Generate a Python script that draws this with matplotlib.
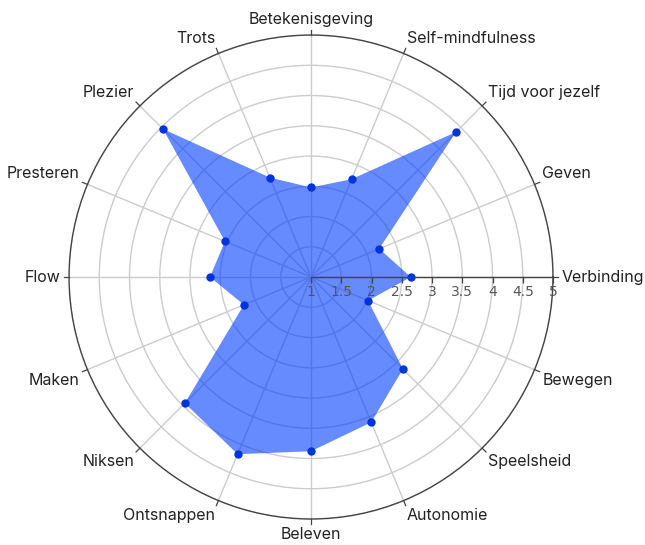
import numpy as np
import matplotlib
matplotlib.use('Agg')
import matplotlib.pyplot as plt
from matplotlib.transforms import ScaledTranslation

categories = ['Verbinding', 'Geven', 'Tijd voor jezelf', 'Self-mindfulness',
              'Betekenisgeving', 'Trots', 'Plezier', 'Presteren', 'Flow',
              'Maken', 'Niksen', 'Ontsnappen', 'Beleven', 'Autonomie',
              'Speelsheid', 'Bewegen']
values = [2.65, 2.22, 4.39, 2.75, 2.48, 2.78, 4.46, 2.54, 2.67,
          2.2, 3.95, 4.17, 3.88, 3.6, 3.15, 2.02]
r_ticks = [1, 1.5, 2, 2.5, 3, 3.5, 4, 4.5, 5]
r_labels = ['1', '1.5', '2', '2.5', '3', '3.5', '4', '4.5', '5']


def main():
    n = len(categories)
    theta = np.arange(n) * 2 * np.pi / n
    fig = plt.figure(figsize=(6.45, 5.45), dpi=100)
    ax = fig.add_axes([0.107, 0.0477, 0.7504, 0.888], projection='polar')
    ax.set_axisbelow(True)
    ax.set_ylim(1, 5)
    ax.set_yticks(r_ticks[1:])
    ax.set_yticklabels([])
    ax.set_xticks(theta)
    ax.set_xticklabels([])
    ax.tick_params(axis='both', length=0)
    ax.grid(True, color='#cccccc', lw=1)
    ax.spines['polar'].set_color('#444444')
    ax.spines['polar'].set_linewidth(1)

    # the shape
    t = np.append(theta, theta[0])
    v = np.append(values, values[0])
    ax.fill(t, v, color=(0, 0.24, 1), alpha=0.6, lw=0, zorder=2)
    ax.plot(theta, values, 'o', color='#0033dd', ms=5, zorder=3)

    # outer ticks
    for a in theta:
        ax.plot([a, a], [5, 5.09], color='#444444', lw=0.9, clip_on=False, zorder=4)

    # radial axis along 0 deg
    ax.plot([0, 0], [1, 5], color='#444444', lw=1, zorder=4, clip_on=False)
    down = ax.transData + ScaledTranslation(0, -2.5 / 72, fig.dpi_scale_trans)
    ax.plot([0] * len(r_ticks), r_ticks, '|', ms=5, mew=0.9, color='#444444',
            transform=down, zorder=4, clip_on=False)
    for r, lab in zip(r_ticks, r_labels):
        ax.annotate(lab, (0, r), xytext=(0, -6), textcoords='offset points',
                    ha='center', va='top', fontsize=10, color='#555555',
                    family='DejaVu Sans', zorder=5)

    # category labels
    for a, lab in zip(theta, categories):
        c, s = np.cos(a), np.sin(a)
        ha = 'left' if c > 0.01 else ('right' if c < -0.01 else 'center')
        va = 'bottom' if s > 0.3 else ('top' if s < -0.3 else 'center')
        ax.annotate(lab, (a, 5), xytext=(6 * c, 6 * s), textcoords='offset points',
                    ha=ha, va=va, fontsize=11.5, color='#222222', family='Inter',
                    annotation_clip=False)

    fig.savefig('out.png', dpi=100)


if __name__ == "__main__":
    main()
